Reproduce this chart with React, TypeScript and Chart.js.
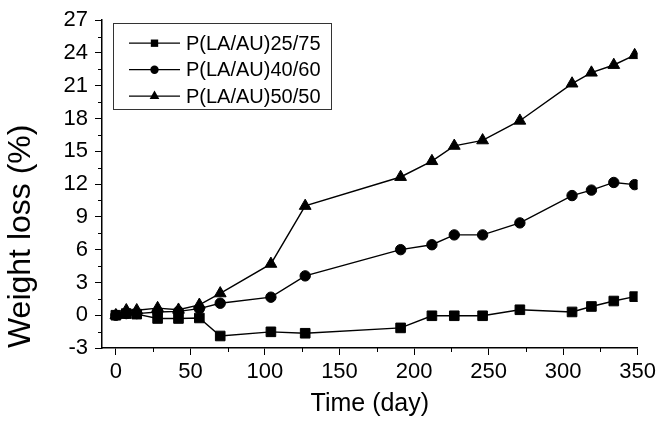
import React, { useEffect, useRef } from 'react';
import { Chart, registerables } from 'chart.js';

Chart.register(...registerables);

// ---- data ----
const days = [0, 7, 14, 28, 42, 56, 70, 104, 127, 191, 212, 227, 246, 271, 306, 319, 334, 348];
const loss25_75 = [0, 0.15, 0.1, -0.3, -0.3, -0.25, -1.9, -1.52, -1.65, -1.16, -0.05, -0.05, -0.05, 0.5, 0.3, 0.8, 1.3, 1.7];
const loss40_60 = [0, 0.15, 0.15, 0.3, 0.35, 0.6, 1.1, 1.65, 3.6, 6.0, 6.45, 7.35, 7.35, 8.45, 10.95, 11.45, 12.15, 11.95];
const loss50_50 = [0, 0.45, 0.45, 0.65, 0.5, 0.95, 2.0, 4.7, 10.0, 12.65, 14.1, 15.5, 16.0, 17.8, 21.2, 22.2, 22.9, 23.8];
const seriesLabels = ['P(LA/AU)25/75', 'P(LA/AU)40/60', 'P(LA/AU)50/50'];
const xTickValues = [0, 50, 100, 150, 200, 250, 300, 350];
const xMinorValues = [25, 75, 125, 175, 225, 275, 325];
const yTickValues = [-3, 0, 3, 6, 9, 12, 15, 18, 21, 24, 27];
const yMinorValues = [-1.5, 1.5, 4.5, 7.5, 10.5, 13.5, 16.5, 19.5, 22.5, 25.5];

const FONT = "'Liberation Sans', Arial, Helvetica, sans-serif";

function drawMarker(ctx: CanvasRenderingContext2D, style: string, x: number, y: number, r: number) {
  ctx.beginPath();
  if (style === 'rect') {
    const s = Math.SQRT1_2 * r;
    ctx.rect(x - s, y - s, 2 * s, 2 * s);
  } else if (style === 'circle') {
    ctx.arc(x, y, r, 0, Math.PI * 2);
  } else {
    ctx.moveTo(x, y - r);
    ctx.lineTo(x + r * Math.sin(Math.PI * 2 / 3), y - r * Math.cos(Math.PI * 2 / 3));
    ctx.lineTo(x + r * Math.sin(Math.PI * 4 / 3), y - r * Math.cos(Math.PI * 4 / 3));
    ctx.closePath();
  }
  ctx.fill();
}

const minorTicksPlugin = {
  id: 'minorTicks',
  afterDraw(chart: any) {
    const ctx = chart.ctx as CanvasRenderingContext2D;
    const xs = chart.scales.x;
    const ys = chart.scales.y;
    const area = chart.chartArea;
    ctx.save();
    ctx.strokeStyle = '#000';
    ctx.lineWidth = 1;
    ctx.beginPath();
    xMinorValues.forEach((v) => {
      const px = Math.round(xs.getPixelForValue(v)) + 0.5;
      ctx.moveTo(px, area.bottom);
      ctx.lineTo(px, area.bottom + 4);
    });
    yMinorValues.forEach((v) => {
      const py = Math.round(ys.getPixelForValue(v)) + 0.5;
      ctx.moveTo(area.left, py);
      ctx.lineTo(area.left - 4, py);
    });
    ctx.stroke();
    ctx.restore();
  },
};

const boxLegendPlugin = {
  id: 'boxLegend',
  afterDraw(chart: any) {
    const ctx = chart.ctx as CanvasRenderingContext2D;
    const area = chart.chartArea;
    const left = area.left + 11;
    const top = area.top + 3;
    const w = 218;
    const h = 86;
    ctx.save();
    ctx.strokeStyle = '#333';
    ctx.lineWidth = 1;
    ctx.strokeRect(Math.round(left) + 0.5, Math.round(top) + 0.5, w, h);
    ctx.font = `20px ${FONT}`;
    ctx.textBaseline = 'middle';
    ctx.textAlign = 'left';
    chart.data.datasets.forEach((ds: any, i: number) => {
      const y = top + 20 + i * 26.5;
      ctx.strokeStyle = '#000';
      ctx.lineWidth = 1.3;
      ctx.beginPath();
      ctx.moveTo(left + 16, y);
      ctx.lineTo(left + 67, y);
      ctx.stroke();
      ctx.fillStyle = '#000';
      drawMarker(ctx, ds.pointStyle, left + 41.5, y, ds.pointStyle === 'rect' ? 5.2 : ds.pointStyle === 'circle' ? 4.2 : 5.6);
      ctx.fillText(ds.label, left + 73, y + 1);
    });
    ctx.restore();
  },
};

export default function App() {
  const canvasRef = useRef<HTMLCanvasElement | null>(null);

  useEffect(() => {
    const canvas = canvasRef.current;
    if (!canvas) return;
    const mk = (label: string, data: number[], style: string, radius: number) => ({
      label,
      data: days.map((d, i) => ({ x: d, y: data[i] })),
      borderColor: '#000',
      backgroundColor: '#000',
      borderWidth: 1.4,
      pointStyle: style,
      pointRadius: radius,
      pointBorderWidth: 1,
      pointBorderColor: '#000',
      pointBackgroundColor: '#000',
      tension: 0,
      fill: false,
    });
    const chart = new Chart(canvas, {
      type: 'line',
      data: {
        datasets: [
          mk(seriesLabels[0], loss25_75, 'rect', 6.8),
          mk(seriesLabels[1], loss40_60, 'circle', 5.2),
          mk(seriesLabels[2], loss50_50, 'triangle', 6.8),
        ],
      },
      options: {
        responsive: false,
        animation: false,
        devicePixelRatio: 1,
        layout: { padding: { left: 0, top: 20, right: 19, bottom: 0 } },
        plugins: {
          legend: { display: false },
          tooltip: { enabled: false },
        },
        scales: {
          x: {
            type: 'linear',
            min: -9.3,
            max: 350,
            afterBuildTicks: (s: any) => {
              s.ticks = xTickValues.map((v) => ({ value: v }));
            },
            afterFit: (s: any) => {
              s.height = 75;
            },
            grid: {
              display: true,
              drawOnChartArea: false,
              drawTicks: true,
              tickLength: 7,
              tickColor: '#000',
              tickWidth: 1,
            },
            border: { display: true, color: '#000', width: 1.5 },
            ticks: {
              color: '#000',
              font: { family: FONT, size: 22 },
              padding: 4,
              maxRotation: 0,
              autoSkip: false,
            },
            title: {
              display: true,
              text: 'Time (day)',
              color: '#000',
              font: { family: FONT, size: 25 },
              padding: { top: 0, bottom: 4 },
            },
          },
          y: {
            type: 'linear',
            min: -3,
            max: 27,
            afterBuildTicks: (s: any) => {
              s.ticks = yTickValues.map((v) => ({ value: v }));
            },
            afterFit: (s: any) => {
              s.width = 102;
            },
            grid: {
              display: true,
              drawOnChartArea: false,
              drawTicks: true,
              tickLength: 7,
              tickColor: '#000',
              tickWidth: 1,
            },
            border: { display: true, color: '#000', width: 1.5 },
            ticks: {
              color: '#000',
              font: { family: FONT, size: 22 },
              padding: 7,
              autoSkip: false,
            },
            title: {
              display: true,
              text: 'Weight loss (%)',
              align: 'start',
              color: '#000',
              font: { family: FONT, size: 32 },
              padding: { top: 2, bottom: 0 },
            },
          },
        },
      } as any,
      plugins: [minorTicksPlugin, boxLegendPlugin],
    });
    return () => chart.destroy();
  }, []);

  return (
    <div style={{ position: 'fixed', left: 0, top: 0, width: 660, height: 423, background: '#fff' }}>
      <canvas ref={canvasRef} width={660} height={423} style={{ width: 660, height: 423, display: 'block' }} />
    </div>
  );
}
